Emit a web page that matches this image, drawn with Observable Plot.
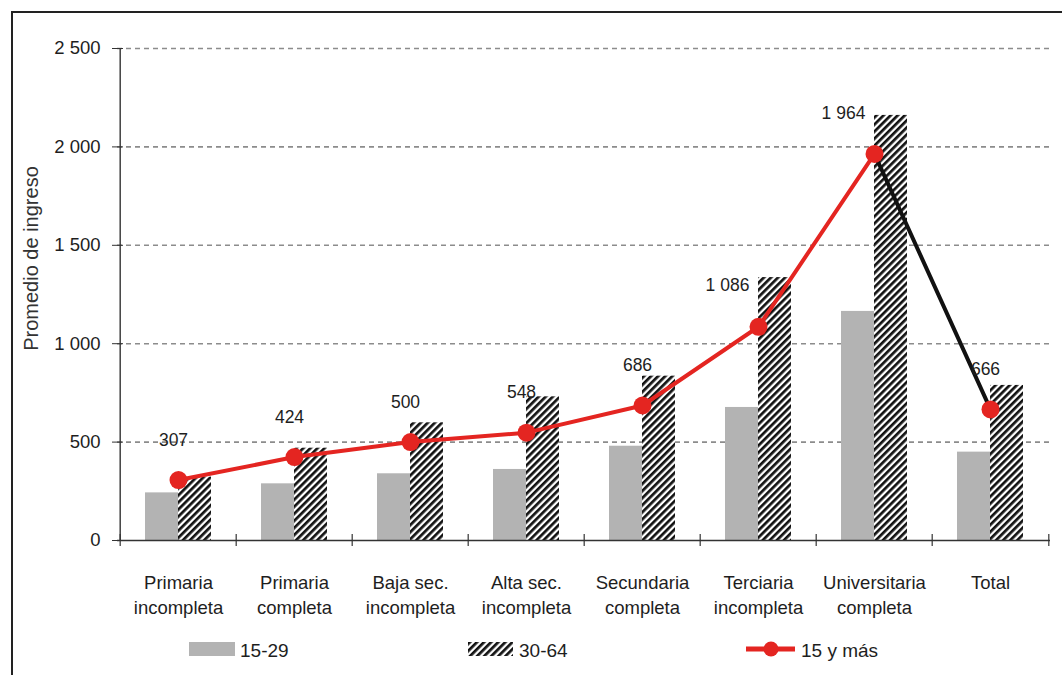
<!DOCTYPE html>
<html><head><meta charset="utf-8">
<script src="https://cdn.jsdelivr.net/npm/d3@7"></script>
<script src="https://cdn.jsdelivr.net/npm/@observablehq/plot@0.6"></script>
<style>
body{margin:0;background:#fff;width:1062px;height:675px;overflow:hidden;position:relative;font-family:"Liberation Sans",Arial,sans-serif;}
#chart{position:absolute;left:0;top:0}
#legend{position:absolute;left:0;top:0;pointer-events:none}
#frame{position:absolute;left:11px;top:11px;width:1100px;height:700px;border-left:2px solid #222;border-top:2px solid #222;pointer-events:none}
</style></head><body>
<div id="chart"></div><svg id="legend" width="1062" height="675"></svg><div id="frame"></div>
<script>
const categories = ["Primaria\nincompleta","Primaria\ncompleta","Baja sec.\nincompleta","Alta sec.\nincompleta","Secundaria\ncompleta","Terciaria\nincompleta","Universitaria\ncompleta","Total"];
const ages15_29 = [242, 288, 339, 361, 479, 676, 1164, 449];
const ages30_64 = [322, 469, 598, 730, 835, 1336, 2160, 788];
const total15mas = [307, 424, 500, 548, 686, 1086, 1964, 666];
const yTicks = [0, 500, 1000, 1500, 2000, 2500];
const seriesNames = ["15-29", "30-64", "15 y más"];
const yTitle = "Promedio de ingreso";

const fmt = d3.formatLocale({decimal: ",", thousands: " ", grouping: [3], currency: ["", ""]}).format(",");
const rows15 = categories.map((c, i) => ({cat: c, v: ages15_29[i]}));
const rows30 = categories.map((c, i) => ({cat: c, v: ages30_64[i]}));
const rowsT = categories.map((c, i) => ({cat: c, v: total15mas[i], i}));

const W = 1062, H = 625, mL = 117, mR = 12, mT = 48, mB = 85;
const step = (W - mL - mR) / categories.length;
const bw = 66;
const pI = 1 - bw / step;
const RED = "#e42521";
const FONT = '"Liberation Sans",Arial,sans-serif';

const chart = Plot.plot({
  width: W, height: H, marginLeft: mL, marginRight: mR, marginTop: mT, marginBottom: mB,
  style: {fontFamily: FONT, fontSize: "18px", color: "#1e1e1e", background: "transparent", overflow: "visible"},
  x: {domain: categories, paddingInner: pI, paddingOuter: pI / 2},
  y: {domain: [0, 2500]},
  marks: [
    Plot.gridY(yTicks.filter(d => d > 0), {stroke: "#8c8c8c", strokeOpacity: 1, strokeWidth: 1.6, strokeDasharray: "5,4"}),
    Plot.barY(rows15, {x: "cat", y: "v", fill: "#b3b3b3", insetRight: bw / 2}),
    Plot.barY(rows30, {x: "cat", y: "v", fill: "url(#hatch)", insetLeft: bw / 2}),
    Plot.ruleY([0], {stroke: "#333", strokeWidth: 1.4}),
    Plot.ruleX([categories[0]], {y1: 0, y2: 2500, dx: -step / 2, stroke: "#333", strokeWidth: 1.4}),
    Plot.ruleX(categories, {y1: -30, y2: 30, dx: -step / 2, stroke: "#333", strokeWidth: 1.2}),
    Plot.ruleX([categories[categories.length - 1]], {y1: -30, y2: 30, dx: step / 2, stroke: "#333", strokeWidth: 1.2}),
    Plot.axisY(yTicks, {tickSize: 11, dx: 6, tickPadding: 12, tickFormat: fmt, fontSize: 18.5, label: null, stroke: "#333"}),
    Plot.axisX({tickSize: 0, tickPadding: 30, lineHeight: 1.38, fontSize: 18.5, label: null}),
    Plot.line(rowsT.slice(0, 7), {x: "cat", y: "v", stroke: RED, strokeWidth: 4}),
    Plot.line(rowsT.slice(6), {x: "cat", y: "v", stroke: "#111", strokeWidth: 4}),
    Plot.dot(rowsT, {x: "cat", y: "v", r: 9, fill: RED}),
    Plot.text(rowsT, {filter: d => d.i !== 5 && d.i !== 6, x: "cat", y: "v", text: d => fmt(d.v), dy: -40, dx: -5, fontSize: 17.5, fill: "#1e1e1e"}),
    Plot.text(rowsT, {filter: d => d.i === 5 || d.i === 6, x: "cat", y: "v", text: d => fmt(d.v), dy: -41, dx: -31, fontSize: 17.5, fill: "#1e1e1e"}),
    Plot.text([yTitle], {frameAnchor: "left", textAnchor: "middle", rotate: -90, dx: -86, dy: -36, fontSize: 20, fill: "#333"})
  ]
});
document.getElementById("chart").appendChild(chart);

const NS = "http://www.w3.org/2000/svg";
function makePattern(svg, id) {
  let defs = document.createElementNS(NS, "defs");
  let p = document.createElementNS(NS, "pattern");
  p.setAttribute("id", id);
  p.setAttribute("patternUnits", "userSpaceOnUse");
  p.setAttribute("width", "5"); p.setAttribute("height", "5");
  p.setAttribute("patternTransform", "rotate(45)");
  let r1 = document.createElementNS(NS, "rect");
  r1.setAttribute("width", "5"); r1.setAttribute("height", "5"); r1.setAttribute("fill", "#fff");
  let r2 = document.createElementNS(NS, "rect");
  r2.setAttribute("width", "2.7"); r2.setAttribute("height", "5"); r2.setAttribute("fill", "#111");
  p.appendChild(r1); p.appendChild(r2); defs.appendChild(p);
  svg.insertBefore(defs, svg.firstChild);
}
makePattern(chart, "hatch");

// legend
const lg = d3.select("#legend");
makePattern(lg.node(), "hatchL");
lg.append("rect").attr("x", 189).attr("y", 642).attr("width", 46).attr("height", 14).attr("fill", "#b3b3b3");
lg.append("rect").attr("x", 468).attr("y", 642).attr("width", 45).attr("height", 14).attr("fill", "url(#hatchL)");
lg.append("line").attr("x1", 746).attr("x2", 795).attr("y1", 649).attr("y2", 649).attr("stroke", RED).attr("stroke-width", 5);
lg.append("circle").attr("cx", 771).attr("cy", 649).attr("r", 7.5).attr("fill", RED);
const lx = [240, 519, 801];
seriesNames.forEach((s, i) => {
  lg.append("text").attr("x", lx[i]).attr("y", 657).attr("font-family", FONT).attr("font-size", 19).attr("fill", "#1e1e1e").text(s);
});
</script>
</body></html>
